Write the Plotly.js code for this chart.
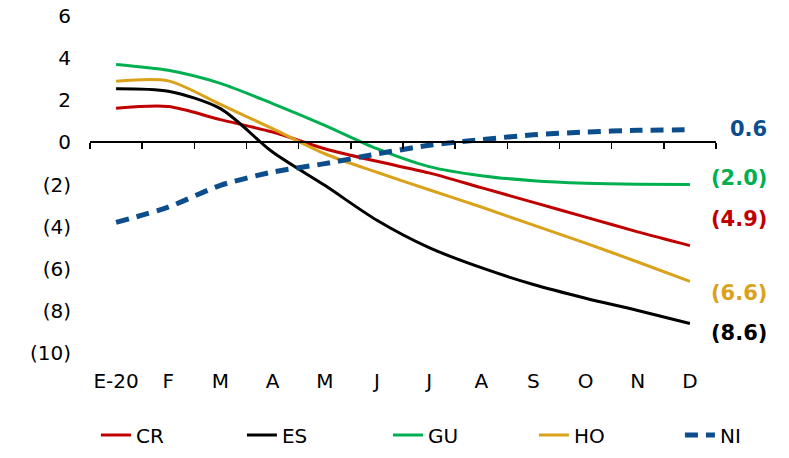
<!DOCTYPE html>
<html>
<head>
<meta charset="utf-8">
<script src="https://cdn.plot.ly/plotly-3.0.1.min.js"></script>
<style>html,body{margin:0;padding:0;background:#fff;}#chart{width:789px;height:458px;}</style>
</head>
<body>
<div id="chart"></div>
<script>
// ---- data ----
const months = ['E-20','F','M','A','M','J','J','A','S','O','N','D'];
const seriesNames = ['CR','ES','GU','HO','NI'];
const CR = [1.62, 1.70, 1.08, 0.49, -0.30, -0.90, -1.45, -2.15, -2.85, -3.55, -4.25, -4.9];
const ES = [2.55, 2.43, 1.60, -0.46, -2.04, -3.70, -5.00, -5.95, -6.75, -7.40, -7.98, -8.6];
const GU = [3.70, 3.42, 2.80, 1.84, 0.81, -0.30, -1.15, -1.58, -1.82, -1.94, -1.99, -2.0];
const HO = [2.90, 2.92, 1.80, 0.65, -0.54, -1.42, -2.25, -3.07, -3.93, -4.78, -5.68, -6.6];
const NI = [-3.80, -3.07, -2.04, -1.41, -1.01, -0.55, -0.14, 0.13, 0.36, 0.49, 0.57, 0.6];
const yTicks = [6, 4, 2, 0, -2, -4, -6, -8, -10];

// ---- styles ----
const colors = {CR:'#C00000', ES:'#000000', GU:'#00B050', HO:'#DAA21A', NI:'#0C4E8C'};
const labelYPos = {CR:-3.66, ES:-9.03, GU:-1.71, HO:-7.13, NI:0.62};
const font = 'DejaVu Sans, Verdana, sans-serif';

const fmt = v => v < 0 ? '(' + Math.abs(v).toFixed(1) + ')' : v.toFixed(1);
const xIdx = months.map((m, i) => i);
const data = {CR, ES, GU, HO, NI};
const yRange = [-10, 6];
const xRange = [-0.5, months.length - 0.5];

const traces = seriesNames.map(n => ({
  x: xIdx, y: data[n], name: n, type: 'scatter', mode: 'lines',
  line: {color: colors[n], width: n === 'NI' ? 5 : 3, shape: 'spline', smoothing: 0.8,
         dash: n === 'NI' ? '13px,8px' : 'solid'},
  legendwidth: n === 'NI' ? 30 : undefined,
  hoverinfo: 'skip'
}));
// carrier trace for the zero axis line with ticks
traces.push({x: xIdx, y: xIdx.map(() => null), xaxis: 'x2', yaxis: 'y', showlegend: false,
  mode: 'lines', hoverinfo: 'skip'});

const annotations = seriesNames.map(n => {
  const last = data[n][data[n].length - 1];
  return {xref: 'paper', yref: 'y', x: 1.085, y: labelYPos[n], xanchor: 'right', yanchor: 'middle',
    text: '<b>' + fmt(last) + '</b>', showarrow: false,
    font: {family: font, size: 21, color: colors[n]}};
});

const boundaries = xIdx.map(i => i - 0.5).concat([months.length - 0.5]);

const layout = {
  width: 789, height: 458,
  margin: {l: 90, r: 73, t: 16, b: 105, pad: 0, autoexpand: false},
  paper_bgcolor: '#fff', plot_bgcolor: '#fff',
  font: {family: font, size: 20, color: '#000'},
  showlegend: true,
  legend: {orientation: 'h', x: -0.0001, xanchor: 'left', indentation: 6,
    y: -0.243, yanchor: 'middle',
    font: {family: font, size: 20, color: '#000'}, entrywidth: 95, entrywidthmode: 'pixels',
    bgcolor: 'rgba(0,0,0,0)'},
  xaxis: {range: xRange, tickmode: 'array', tickvals: xIdx, ticktext: months,
    showline: false, showgrid: false, zeroline: false, ticks: '', ticklabelstandoff: 14,
    tickfont: {family: font, size: 20, color: '#000'}},
  xaxis2: {overlaying: 'x', anchor: 'free',
    position: (0 - yRange[0]) / (yRange[1] - yRange[0]),
    range: xRange, tickmode: 'array', tickvals: boundaries, showticklabels: false,
    ticks: 'outside', ticklen: 6, tickwidth: 1.5, tickcolor: '#000',
    showline: true, linecolor: '#000', linewidth: 2, showgrid: false, zeroline: false},
  yaxis: {range: yRange, tickmode: 'array', tickvals: yTicks, ticktext: yTicks.map(v => v < 0 ? '(' + Math.abs(v) + ')' : String(v)),
    showline: false, showgrid: false, zeroline: false, ticks: '', ticklabelstandoff: 18,
    tickfont: {family: font, size: 20, color: '#000'}},
  annotations: annotations
};

Plotly.newPlot('chart', traces, layout, {staticPlot: true, displayModeBar: false});
</script>
</body>
</html>
